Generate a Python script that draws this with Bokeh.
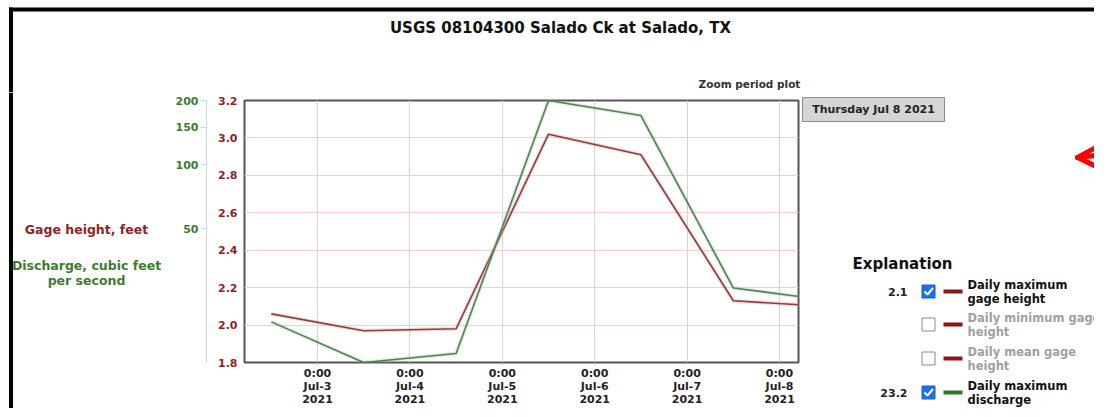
import pandas as pd
from bokeh.plotting import figure
from bokeh.models import (Range1d, LogScale, LogAxis, FixedTicker,
                          PrintfTickFormatter, BasicTickFormatter)
from bokeh.layouts import row, column
from bokeh.core.properties import value
from bokeh.embed import file_html
from bokeh.resources import INLINE

# ---------------- data ----------------
title_text = "USGS 08104300 Salado Ck at Salado, TX"
subtitle_text = "Zoom period plot"
dates = ["2021-07-02 12:00", "2021-07-03 12:00", "2021-07-04 12:00",
         "2021-07-05 12:00", "2021-07-06 12:00", "2021-07-07 12:00",
         "2021-07-08 12:00"]
gage_max = [2.06, 1.97, 1.98, 3.02, 2.91, 2.13, 2.10]
discharge_max = [18.3, 11.8, 13.0, 200.0, 170.0, 26.4, 23.2]
gage_ticks = [1.8, 2.0, 2.2, 2.4, 2.6, 2.8, 3.0, 3.2]
discharge_ticks = [50, 100, 150, 200]
x_tick_dates = ["2021-07-03", "2021-07-04", "2021-07-05",
                "2021-07-06", "2021-07-07", "2021-07-08"]
x_tick_labels = ["0:00\nJul-3\n2021", "0:00\nJul-4\n2021", "0:00\nJul-5\n2021",
                 "0:00\nJul-6\n2021", "0:00\nJul-7\n2021", "0:00\nJul-8\n2021"]
x_window = ["2021-07-02 05:02", "2021-07-08 04:56"]
gage_range = [1.8, 3.2]
discharge_range = [11.8, 200.0]
gage_axis_label = "Gage height, feet"
discharge_axis_label = ["Discharge, cubic feet", "per second"]
legend_title = "Explanation"
legend_labels = [["Daily maximum", "gage height"],
                 ["Daily minimum gage", "height"],
                 ["Daily mean gage", "height"],
                 ["Daily maximum", "discharge"]]
legend_checked = [True, False, False, True]
legend_series = ["gage", "gage", "gage", "discharge"]

# ---------------- style ----------------
FONT = "DejaVu Sans"
RED_TXT = "#8B2525"
GRN_TXT = "#3E7B30"
RED_LINE = "#8E3E3E"
GRN_LINE = "#4F8250"
RED_KEY = "#8B1414"
GRN_KEY = "#2E7D22"

W_TOTAL = 1094
H_TOP = 92
H_ROW = 316
W_L, W_M, W_R = 166, 634, 294


def canvas_fig(w, h):
    f = figure(width=w, height=h, x_range=Range1d(0, w), y_range=Range1d(h, 0),
               x_axis_location=None, y_axis_location=None,
               toolbar_location=None, output_backend="svg", min_border=0,
               frame_align=False)
    f.grid.visible = False
    f.outline_line_color = None
    return f


# ---------------- top strip (title) ----------------
top = canvas_fig(W_TOTAL, H_TOP)
top.quad(left=[8.5, 8.5], right=[W_TOTAL, 12.5], top=[7, 7], bottom=[11, H_TOP],
         fill_color="black", line_color=None)
top.text(x=[560], y=[27], text=[title_text], text_font=value(FONT),
         text_font_style="bold", text_font_size="15px", text_color="#111111",
         text_align="center", text_baseline="middle")
top.text(x=[749], y=[83], text=[subtitle_text], text_font=value(FONT),
         text_font_style="bold", text_font_size="10.5px", text_color="#333333",
         text_align="center", text_baseline="middle")

# ---------------- left strip (axis titles) ----------------
left = canvas_fig(W_L, H_ROW)
left.quad(left=[8.5], right=[12.5], top=[0], bottom=[H_ROW],
          fill_color="black", line_color=None)
left.text(x=[86], y=[137], text=[gage_axis_label], text_font=value(FONT),
          text_font_style="bold", text_font_size="12.5px", text_color=RED_TXT,
          text_align="center", text_baseline="middle")
left.text(x=[86, 86], y=[173, 188], text=discharge_axis_label, text_font=value(FONT),
          text_font_style="bold", text_font_size="12.5px", text_color=GRN_TXT,
          text_align="center", text_baseline="middle")

# ---------------- main plot ----------------
xs = pd.to_datetime(dates)
xw = pd.to_datetime(x_window)
tick_ts = pd.to_datetime(x_tick_dates)
tick_ms = [int(t.value // 10**6) for t in tick_ts]

pm = figure(width=W_M, height=H_ROW, x_axis_type="datetime",
            x_range=Range1d(xw[0], xw[1]),
            y_range=Range1d(gage_range[0], gage_range[1]),
            extra_y_ranges={"q": Range1d(discharge_range[0], discharge_range[1])},
            extra_y_scales={"q": LogScale()},
            toolbar_location=None, output_backend="svg", frame_align=False,
            min_border_left=78, min_border_right=2,
            min_border_top=8, min_border_bottom=46)
pm.outline_line_color = "#555555"
pm.outline_line_width = 2
pm.background_fill_color = "white"

gax = pm.yaxis[0]
gax.ticker = FixedTicker(ticks=gage_ticks)
gax.formatter = PrintfTickFormatter(format="%.1f")
gax.axis_line_color = None
gax.major_tick_line_color = None
gax.minor_tick_line_color = None
gax.major_tick_out = 0
gax.major_tick_in = 0
gax.major_label_standoff = 7
gax.major_label_text_font = FONT
gax.major_label_text_font_style = "bold"
gax.major_label_text_font_size = "11px"
gax.major_label_text_color = RED_TXT
gax.axis_label = " "
gax.axis_label_text_font_size = "5px"
gax.axis_label_standoff = 0

qax = LogAxis(y_range_name="q", ticker=FixedTicker(ticks=discharge_ticks),
              formatter=BasicTickFormatter())
qax.axis_line_color = "#d4d4d4"
qax.major_tick_line_color = "#d4d4d4"
qax.minor_tick_line_color = None
qax.major_tick_out = 6
qax.major_tick_in = 0
qax.major_label_standoff = 2
qax.major_label_text_font = FONT
qax.major_label_text_font_style = "bold"
qax.major_label_text_font_size = "11px"
qax.major_label_text_color = GRN_TXT
pm.add_layout(qax, "left")

xax = pm.xaxis[0]
xax.ticker = FixedTicker(ticks=tick_ms)
xax.major_label_overrides = {ms: lab for ms, lab in zip(tick_ms, x_tick_labels)}
xax.axis_line_color = None
xax.major_tick_line_color = None
xax.minor_tick_line_color = None
xax.major_tick_out = 0
xax.major_tick_in = 0
xax.major_label_standoff = 4
xax.major_label_text_font = FONT
xax.major_label_text_font_style = "bold"
xax.major_label_text_font_size = "11px"
xax.major_label_text_line_height = 1.0
xax.major_label_text_color = "#222222"

pm.xgrid.ticker = FixedTicker(ticks=tick_ms)
pm.xgrid.grid_line_color = "#d9d2da"
pm.xgrid.grid_line_width = 1
pm.ygrid.grid_line_color = "#efcfd2"
pm.ygrid.grid_line_width = 1

pm.line(xs, gage_max, line_color="#d9a0a0", line_width=4, line_alpha=0.35)
pm.line(xs, gage_max, line_color=RED_LINE, line_width=1.6)
pm.line(xs, discharge_max, y_range_name="q", line_color="#a9cfa9",
        line_width=4, line_alpha=0.35)
pm.line(xs, discharge_max, y_range_name="q", line_color=GRN_LINE, line_width=1.6)

# ---------------- right strip (tooltip + explanation) ----------------
rf = canvas_fig(W_R, H_ROW)
last_day = pd.Timestamp(dates[-1])
tip_text = f"{last_day:%A %b} {last_day.day} {last_day.year}"
rf.rect(x=[73], y=[17], width=142, height=24, fill_color="#d5d5d5",
        line_color="#8a8a8a", line_width=1)
rf.text(x=[73], y=[17], text=[tip_text], text_font=value(FONT),
        text_font_style="bold", text_font_size="11px", text_color="#222222",
        text_align="center", text_baseline="middle")

# red arrow
rf.multi_line(xs=[[277, 312], [277, 299], [277, 300]],
              ys=[[65, 61], [65, 53], [65, 76]],
              line_color="#ff0000", line_width=5, line_cap="round")

rf.text(x=[52], y=[171], text=[legend_title], text_font=value(FONT),
        text_font_style="bold", text_font_size="15px", text_color="#111111",
        text_align="left", text_baseline="middle")

row_y = [199, 232, 266, 300]
last_vals = {"gage": f"{gage_max[-1]:.1f}", "discharge": f"{discharge_max[-1]:.1f}"}
for yy, labs, chk, ser in zip(row_y, legend_labels, legend_checked, legend_series):
    key_col = RED_KEY if ser == "gage" else GRN_KEY
    txt_col = "#111111" if chk else "#a0a0a0"
    if chk:
        rf.text(x=[107], y=[yy], text=[last_vals[ser]], text_font=value(FONT),
                text_font_style="bold", text_font_size="11px", text_color="#222222",
                text_align="right", text_baseline="middle")
        rf.rect(x=[128], y=[yy], width=13, height=13, fill_color="#1a73e8",
                line_color="#1a5fc8", line_width=1)
        rf.line(x=[124, 127, 132.5], y=[yy, yy + 3, yy - 3.5], line_color="white",
                line_width=2)
    else:
        rf.rect(x=[128], y=[yy], width=13, height=13, fill_color="white",
                line_color="#8a8a8a", line_width=1)
    rf.line(x=[143, 162], y=[yy, yy], line_color=key_col, line_width=4)
    rf.text(x=[167, 167], y=[yy - 7, yy + 7], text=labs, text_font=value(FONT),
            text_font_style="bold", text_font_size="11.5px", text_color=txt_col,
            text_align="left", text_baseline="middle")

layout = column(top, row(left, pm, rf))
open("out.html", "w").write(file_html(layout, INLINE))
